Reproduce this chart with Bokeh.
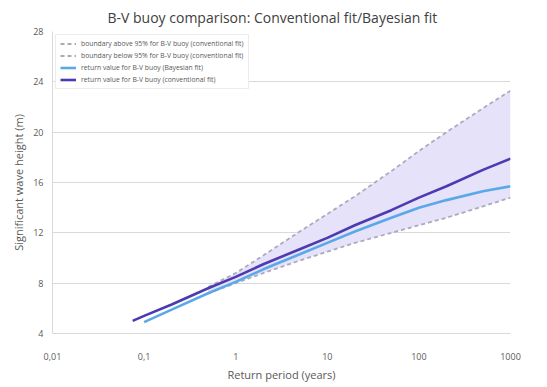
from bokeh.plotting import figure
from bokeh.models import Range1d, FixedTicker, CustomJSTickFormatter, Legend, LegendItem
from bokeh.embed import file_html
from bokeh.resources import INLINE

# Return value, conventional fit
period_conv = [0.075, 0.1, 0.2, 0.5, 1, 2, 5, 10, 20, 50, 100, 200, 500, 1000]
hs_conv = [5.0, 5.4, 6.3, 7.6, 8.5, 9.5, 10.7, 11.6, 12.6, 13.8, 14.8, 15.7, 17.0, 17.9]

# Return value, Bayesian fit
period_bayes = [0.1, 0.2, 0.5, 1, 2, 5, 10, 20, 50, 100, 200, 500, 1000]
hs_bayes = [4.9, 5.9, 7.2, 8.1, 9.1, 10.3, 11.2, 12.1, 13.2, 14.0, 14.6, 15.3, 15.7]

# 95% boundaries (conventional fit)
period_band = [0.5, 1, 2, 5, 10, 20, 50, 100, 200, 500, 1000]
hs_upper = [7.7, 8.8, 10.2, 12.1, 13.5, 14.9, 16.9, 18.5, 20.0, 21.9, 23.3]
hs_lower = [7.2, 8.0, 8.8, 9.8, 10.5, 11.2, 12.0, 12.6, 13.2, 14.1, 14.8]

x_ticks = [0.01, 0.1, 1, 10, 100, 1000]
y_ticks = [4, 8, 12, 16, 20, 24, 28]

FONT = "Open Sans"

p = figure(frame_width=458, frame_height=302, x_axis_type="log",
           x_range=Range1d(0.01, 1000), y_range=Range1d(4, 28),
           output_backend="svg", toolbar_location=None,
           min_border_left=52, min_border_right=29,
           min_border_top=25, min_border_bottom=10)

p.title.text = "B-V buoy comparison: Conventional fit/Bayesian fit"
p.title.align = "left"
p.title.offset = 55
p.title.text_font = FONT
p.title.text_font_size = "14px"
p.title.text_font_style = "normal"
p.title.text_color = "#404040"

p.outline_line_color = None
p.xgrid.grid_line_color = None
p.ygrid.grid_line_color = "#D9D9D9"

p.xaxis.ticker = FixedTicker(ticks=x_ticks)
p.xaxis.formatter = CustomJSTickFormatter(code="return tick.toString().replace('.', ',');")
p.yaxis.ticker = FixedTicker(ticks=y_ticks)

for ax in (p.xaxis[0], p.yaxis[0]):
    ax.axis_line_color = "#D9D9D9"
    ax.major_tick_line_color = None
    ax.minor_tick_line_color = None
    ax.major_tick_out = 0
    ax.major_tick_in = 0
    ax.minor_tick_out = 0
    ax.minor_tick_in = 0
    ax.major_label_text_font = FONT
    ax.major_label_text_font_size = "9px"
    ax.major_label_text_color = "#595959"
    ax.axis_label_text_font = FONT
    ax.axis_label_text_font_size = "11px"
    ax.axis_label_text_font_style = "normal"
    ax.axis_label_text_color = "#595959"

p.xaxis.axis_label = "Return period (years)"
p.xaxis.major_label_standoff = 19
p.xaxis.axis_label_standoff = 4
p.yaxis.axis_label = "Significant wave height (m)"
p.yaxis.major_label_standoff = 9
p.yaxis.axis_label_standoff = 4

p.varea(x=period_band, y1=hs_lower, y2=hs_upper, fill_color="#E5E2FA", fill_alpha=1.0)

r_up = p.line(period_band, hs_upper, line_color="#ABABBE", line_width=1.8, line_dash="4 3")
r_lo = p.line(period_band, hs_lower, line_color="#ABABBE", line_width=1.8, line_dash="4 3")
r_bay = p.line(period_bayes, hs_bayes, line_color="#5BA8E8", line_width=2.6)
r_conv = p.line(period_conv, hs_conv, line_color="#4C3BB0", line_width=2.6)

legend = Legend(items=[
    LegendItem(label="boundary above 95% for B-V buoy (conventional fit)", renderers=[r_up]),
    LegendItem(label="boundary below 95% for B-V buoy (conventional fit)", renderers=[r_lo]),
    LegendItem(label="return value for B-V buoy (Bayesian fit)", renderers=[r_bay]),
    LegendItem(label="return value for B-V buoy (conventional fit)", renderers=[r_conv]),
], location="top_left")
legend.label_text_font = FONT
legend.label_text_font_size = "6.8px"
legend.label_text_color = "#595959"
legend.label_height = 7
legend.glyph_height = 7
legend.glyph_width = 16
legend.spacing = 3
legend.padding = 4
legend.margin = 3
legend.border_line_color = "#D9D9D9"
legend.background_fill_alpha = 1.0
p.add_layout(legend)

open("out.html", "w").write(file_html(p, INLINE))
